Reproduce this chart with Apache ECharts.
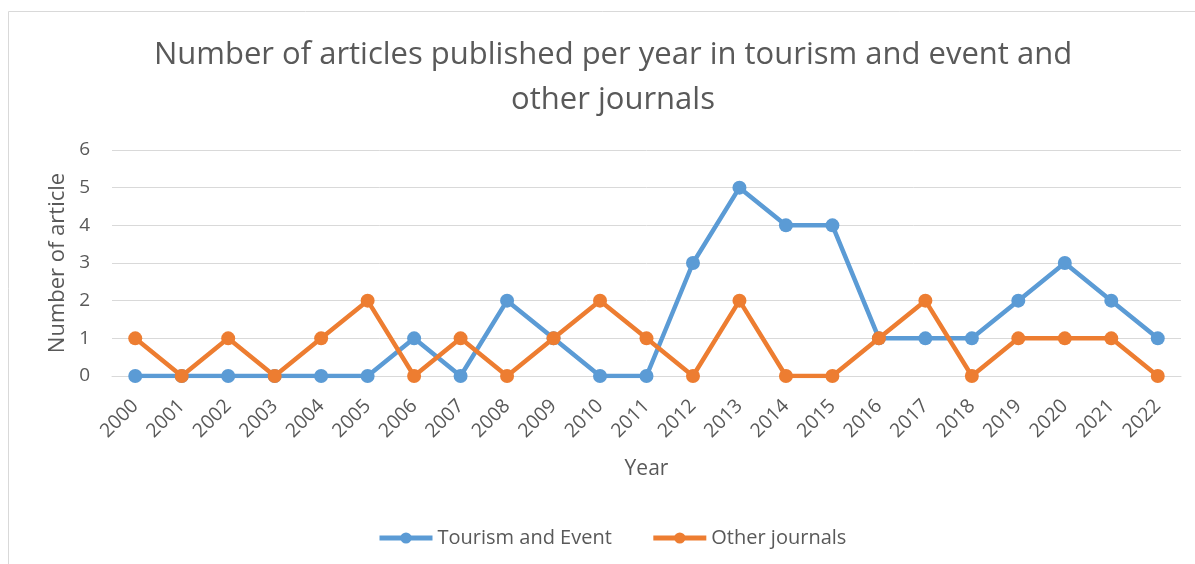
<!DOCTYPE html>
<html><head><meta charset="utf-8">
<script src="https://cdn.jsdelivr.net/npm/echarts@6/dist/echarts.min.js"></script>
<style>html,body{margin:0;padding:0;background:#fff}#c{width:1195px;height:564px}</style>
</head><body><div id="c"></div>
<script>
const years = ['2000','2001','2002','2003','2004','2005','2006','2007','2008','2009','2010','2011','2012','2013','2014','2015','2016','2017','2018','2019','2020','2021','2022'];
const tourismEvent = [0,0,0,0,0,0,1,0,2,1,0,0,3,5,4,4,1,1,1,2,3,2,1];
const otherJournals = [1,0,1,0,1,2,0,1,0,1,2,1,0,2,0,0,1,2,0,1,1,1,0];
const yTicks = [0,1,2,3,4,5,6];

const FONT = 'Open Sans';
const TXT = '#595959';
const chart = echarts.init(document.getElementById('c'));
chart.setOption({
  animation:false,
  textStyle:{fontFamily:FONT},
  graphic:[{type:'rect',shape:{x:8.5,y:11.5,width:1300,height:700},style:{fill:'none',stroke:'#d9d9d9',lineWidth:1},silent:true,z:-1}],
  title:{
    text:'Number of articles published per year in tourism and event and\nother journals',
    left:608, top:28,
    textAlign:'center',
    textStyle:{fontFamily:FONT,fontSize:31,fontWeight:'normal',color:TXT,lineHeight:45,align:'center'}
  },
  legend:{
    top:523, left:372,
    itemWidth:53, itemHeight:14, itemGap:39,
    lineStyle:{width:5},
    textStyle:{fontFamily:FONT,fontSize:20,color:TXT},
    data:['Tourism and Event','Other journals']
  },
  grid:{left:112,right:14,top:150,bottom:188,containLabel:false},
  xAxis:{
    type:'category', data:years, boundaryGap:true,
    name:'Year', nameLocation:'middle', nameGap:83,
    nameTextStyle:{fontFamily:FONT,fontSize:21,color:TXT},
    axisLine:{show:true,lineStyle:{color:'#d9d9d9',width:1}},
    axisTick:{show:false},
    axisLabel:{rotate:45,fontSize:19.5,color:TXT,margin:27,interval:0}
  },
  yAxis:{
    type:'value', min:0, max:6, interval:1,
    name:'Number of article', nameLocation:'middle', nameGap:42,
    nameTextStyle:{fontFamily:FONT,fontSize:22,color:TXT},
    axisLine:{show:false}, axisTick:{show:false},
    axisLabel:{fontSize:19,color:TXT,margin:22,formatter:v=>yTicks.includes(v)?String(v):''},
    splitLine:{lineStyle:{color:'#d9d9d9',width:1}}
  },
  series:[
    {name:'Tourism and Event',type:'line',data:tourismEvent,symbol:'circle',symbolSize:14,
     lineStyle:{color:'#5B9BD5',width:4.5},itemStyle:{color:'#5B9BD5'},z:2},
    {name:'Other journals',type:'line',data:otherJournals,symbol:'circle',symbolSize:14,
     lineStyle:{color:'#ED7D31',width:4.5},itemStyle:{color:'#ED7D31'},z:3}
  ]
});
</script></body></html>
